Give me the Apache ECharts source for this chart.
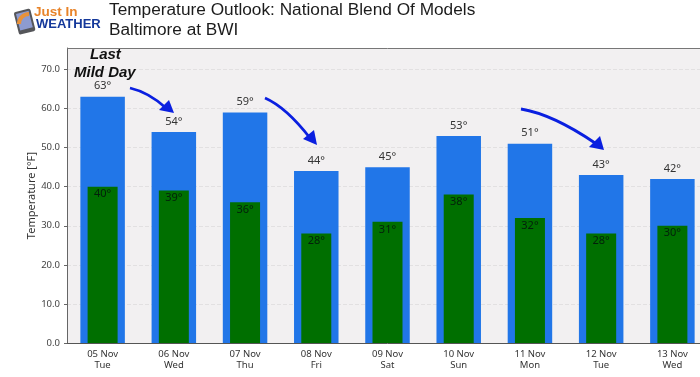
<!DOCTYPE html>
<html>
<head>
<meta charset="utf-8">
<style>
  html, body { margin: 0; padding: 0; background: #fff; overflow: hidden; }
  #chart1 { width: 708px; height: 377px; }
</style>
<script src="https://cdn.jsdelivr.net/npm/echarts@6/dist/echarts.min.js"></script>
</head>
<body>
<div id="chart1"></div>
<script>
  const dates = ['05 Nov', '06 Nov', '07 Nov', '08 Nov', '09 Nov', '10 Nov', '11 Nov', '12 Nov', '13 Nov']
  const days = ['Tue', 'Wed', 'Thu', 'Fri', 'Sat', 'Sun', 'Mon', 'Tue', 'Wed']
  const highs = [63, 54, 59, 44, 45, 53, 51, 43, 42]
  const lows = [40, 39, 36, 28, 31, 38, 32, 28, 30]
  const yTicks = [0, 10, 20, 30, 40, 50, 60, 70]

  const categories = dates.map((d, i) => d + '\n' + days[i])
  const font = '"Noto Sans", sans-serif'
  const arrowBlue = '#0a1fe0'
  const myChart = echarts.init(document.getElementById('chart1'))

  // curved shaft plus a filled head
  const arrow = (from, c1, c2, to, head) => ([{
    type: 'bezierCurve',
    z: 50,
    shape: { x1: from[0], y1: from[1], cpx1: c1[0], cpy1: c1[1], cpx2: c2[0], cpy2: c2[1], x2: to[0], y2: to[1] },
    style: { fill: 'none', stroke: arrowBlue, lineWidth: 2.8 }
  }, {
    type: 'polygon',
    z: 50,
    shape: { points: head },
    style: { fill: arrowBlue }
  }])

  const label = (text, x, y, fontStr, fill) => ({
    type: 'text', x: x, y: y, z: 55,
    style: { text: text, font: fontStr, fill: fill }
  })

  const option = {
    animation: false,
    backgroundColor: '#fff',
    textStyle: { fontFamily: font },
    grid: {
      left: 67,
      right: 0,
      top: 48,
      bottom: 34,
      show: true,
      backgroundColor: '#f2f0f1',
      borderWidth: 0
    },
    xAxis: [{
      type: 'category',
      data: categories,
      axisLine: { lineStyle: { color: '#555', width: 1 } },
      axisTick: { alignWithLabel: true, length: 4, lineStyle: { color: '#555' } },
      axisLabel: { color: '#333', fontSize: 9.5, fontFamily: font, lineHeight: 11, margin: 6, interval: 0 }
    }, {
      type: 'category',
      data: categories,
      show: false
    }],
    yAxis: {
      type: 'value',
      min: 0,
      max: 75.5,
      interval: 10,
      name: 'Temperature [°F]',
      nameLocation: 'middle',
      nameGap: 30,
      nameMoveOverlap: false,
      nameTextStyle: { color: '#333', fontSize: 11, fontFamily: font },
      axisLine: { show: true, lineStyle: { color: '#666' } },
      axisTick: { show: true, length: 3, lineStyle: { color: '#666' }, customValues: yTicks },
      axisLabel: { color: '#444', fontSize: 9.5, fontFamily: font, margin: 7, customValues: yTicks, formatter: v => v.toFixed(1) },
      splitLine: { show: true, lineStyle: { type: 'dashed', color: '#e2e0e1' } }
    },
    series: [{
      name: 'High',
      type: 'bar',
      xAxisIndex: 0,
      barWidth: 44.5,
      data: highs,
      itemStyle: { color: '#2176e8' },
      label: {
        show: true,
        position: 'top',
        distance: 5,
        color: '#333',
        fontSize: 11,
        fontFamily: font,
        formatter: p => p.value + '°'
      },
      z: 2
    }, {
      name: 'Low',
      type: 'bar',
      xAxisIndex: 1,
      barWidth: 30,
      data: lows,
      itemStyle: { color: '#006f00' },
      label: {
        show: true,
        position: 'insideTop',
        distance: 2,
        color: '#03200a',
        fontSize: 11,
        fontFamily: font,
        formatter: p => p.value + '°'
      },
      z: 3
    }],
    graphic: [
      // top edge of the plot box
      { type: 'line', z: 40, shape: { x1: 67, y1: 48.5, x2: 708, y2: 48.5 }, style: { stroke: '#777', lineWidth: 1 } },

      label('Temperature Outlook: National Blend Of Models', 109, 2, '17.25px "Liberation Sans"', '#1c1c1c'),
      label('Baltimore at BWI', 109, 22, '17.25px "Liberation Sans"', '#1c1c1c'),

      // logo
      { type: 'rect', z: 50, shape: { x: 16, y: 10, width: 17, height: 23, r: 2 }, rotation: 0.25, originX: 25, originY: 21, style: { fill: '#55565a' } },
      { type: 'rect', z: 51, shape: { x: 18, y: 12, width: 13, height: 17 }, rotation: 0.25, originX: 25, originY: 21, style: { fill: '#8d9bd0' } },
      { type: 'sector', z: 52, shape: { cx: 29, cy: 24, r: 12, r0: 8, startAngle: Math.PI, endAngle: Math.PI * 1.5 }, style: { fill: '#e8923a' } },
      label('Just In', 34, 5, 'bold 13.5px "Liberation Sans"', '#e8842a'),
      label('WEATHER', 36, 18, 'bold 13px "Liberation Sans"', '#14389a'),

      // annotation
      label('Last', 90, 47, 'italic bold 15px "Liberation Sans"', '#111'),
      label('Mild Day', 74, 65, 'italic bold 15px "Liberation Sans"', '#111'),

      ...arrow([130, 88], [143, 91], [155, 98], [166, 108], [[174, 113], [159, 110], [169, 100]]),
      ...arrow([265, 98], [281, 105], [296, 120], [310, 138], [[317, 145], [303, 139], [314, 130]]),
      ...arrow([521, 109], [545, 113], [570, 126], [595, 143], [[604, 150], [589, 147], [600, 136]])
    ]
  }
  myChart.setOption(option)
</script>
</body>
</html>
